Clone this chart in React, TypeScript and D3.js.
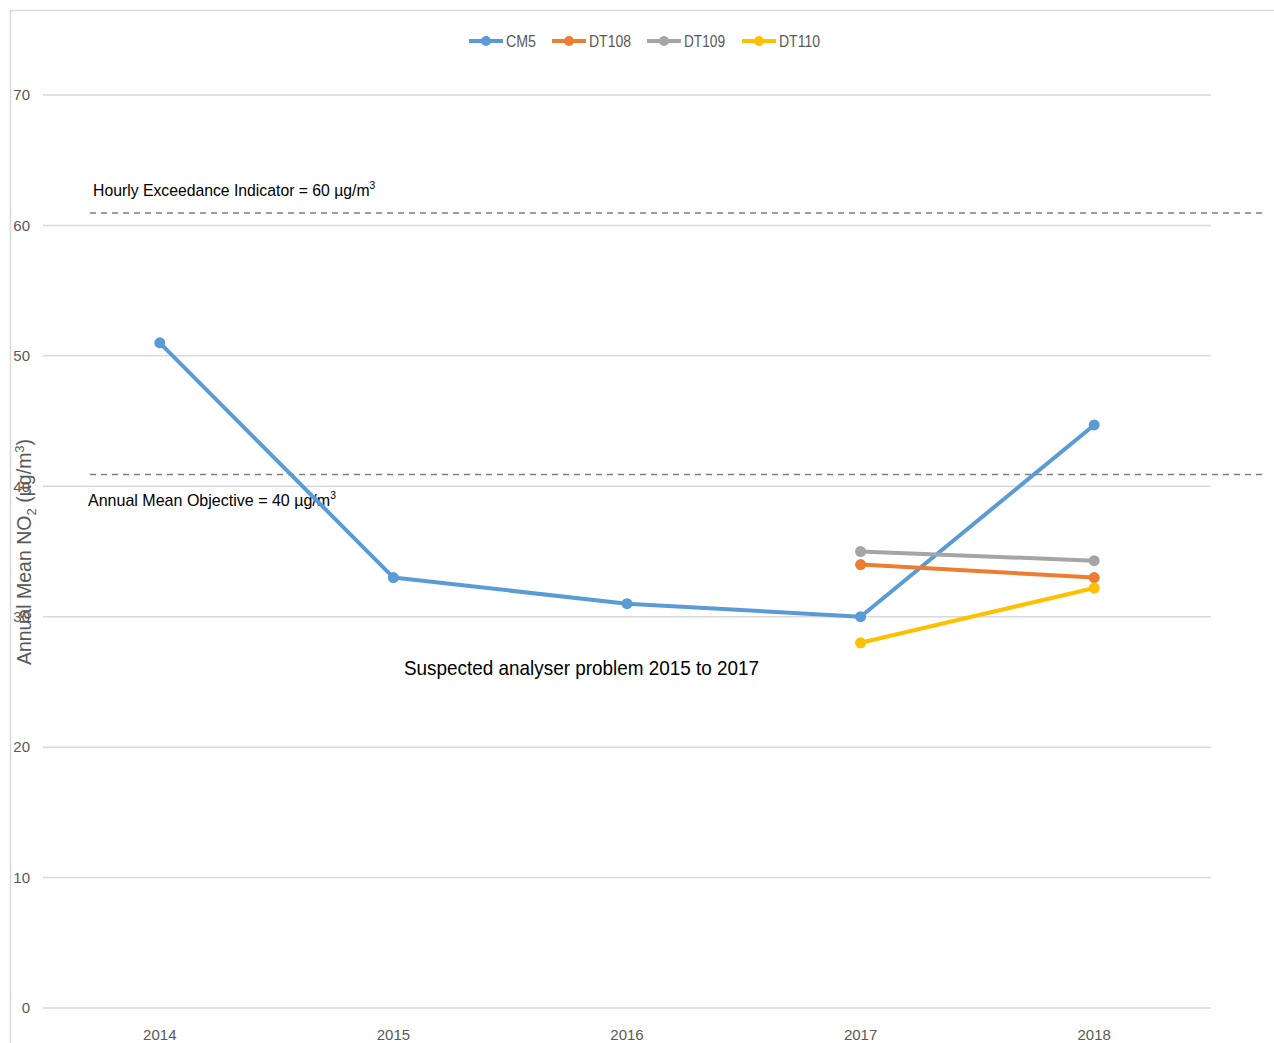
import React from "react";
import * as d3 from "d3";

const years = ["2014", "2015", "2016", "2017", "2018"];
const cm5 = [51, 33, 31, 30, 44.7];
const dt108 = [null, null, null, 34, 33];
const dt109 = [null, null, null, 35, 34.3];
const dt110 = [null, null, null, 28, 32.2];
const seriesNames = ["CM5", "DT108", "DT109", "DT110"];
const seriesColors = ["#5B9BD5", "#ED7D31", "#A5A5A5", "#FFC000"];
const yTicks = [0, 10, 20, 30, 40, 50, 60, 70];
const hourlyLineValue = 60.95;
const annualLineValue = 40.9;
const hourlyText = "Hourly Exceedance Indicator = 60 µg/m";
const annualText = "Annual Mean Objective = 40 µg/m";
const noteText = "Suspected analyser problem 2015 to 2017";

const W = 1274;
const H = 1043;
const font = "'Liberation Sans', Arial, sans-serif";

export default function App() {
  const x = d3.scaleBand<string>().domain(years).range([43, 1211]);
  const y = d3.scaleLinear().domain([0, 70]).range([1008, 95]);
  const cx = (yr: string) => (x(yr) as number) + x.bandwidth() / 2;
  const all = [cm5, dt108, dt109, dt110];
  const line = d3
    .line<number | null>()
    .defined((d) => d != null)
    .x((_, i) => cx(years[i]))
    .y((d) => y(d as number));

  const legendX = [469, 552, 647, 742];
  const legendTextW = [30, 42, 41, 41];

  return (
    <svg
      width={W}
      height={H}
      style={{ position: "absolute", left: 0, top: 0, background: "#fff" }}
    >
      <rect x={0} y={0} width={W} height={H} fill="#fff" />
      <line x1={10} y1={10.5} x2={W} y2={10.5} stroke="#D9D9D9" strokeWidth={1.5} />
      <line x1={10.5} y1={10} x2={10.5} y2={H} stroke="#D9D9D9" strokeWidth={1.5} />

      {yTicks.map((t) => (
        <g key={t}>
          <line x1={43} x2={1211} y1={y(t)} y2={y(t)} stroke="#D9D9D9" strokeWidth={1.5} />
          <text x={30} y={y(t)} dy="0.35em" textAnchor="end" fontFamily={font} fontSize={15} fill="#595959">
            {t}
          </text>
        </g>
      ))}

      {years.map((yr) => (
        <text key={yr} x={cx(yr)} y={1040} textAnchor="middle" fontFamily={font} fontSize={15} fill="#595959">
          {yr}
        </text>
      ))}

      <line x1={90} x2={1262} y1={y(hourlyLineValue)} y2={y(hourlyLineValue)} stroke="#7F7F7F" strokeWidth={1.5} strokeDasharray="6,5" />
      <line x1={90} x2={1262} y1={y(annualLineValue)} y2={y(annualLineValue)} stroke="#7F7F7F" strokeWidth={1.5} strokeDasharray="6,5" />

      <g transform="translate(93,196) scale(0.928,1)">
        <text x={0} y={0} fontFamily={font} fontSize={17} fill="#000">
          {hourlyText}
          <tspan dy={-7} fontSize={11}>3</tspan>
        </text>
      </g>

      <g transform="translate(88,506) scale(0.943,1)">
        <text x={0} y={0} fontFamily={font} fontSize={17} fill="#000">
          {annualText}
          <tspan dy={-7} fontSize={11}>3</tspan>
        </text>
      </g>

      <text
        transform={`translate(31, 552) rotate(-90)`}
        textAnchor="middle"
        fontFamily={font}
        fontSize={19.5}
        fill="#595959"
      >
        Annual Mean NO
        <tspan dy={5} fontSize={13}>2</tspan>
        <tspan dy={-5}> (µg/m</tspan>
        <tspan dy={-7} fontSize={13}>3</tspan>
        <tspan dy={7}>)</tspan>
      </text>

      {all.map((s, i) => (
        <g key={seriesNames[i]}>
          <path d={line(s) || ""} fill="none" stroke={seriesColors[i]} strokeWidth={4} strokeLinejoin="round" strokeLinecap="round" />
          {s.map((v, j) =>
            v == null ? null : <circle key={j} cx={cx(years[j])} cy={y(v)} r={5.5} fill={seriesColors[i]} />
          )}
        </g>
      ))}

      <text x={404} y={675} fontFamily={font} fontSize={21} fill="#000" textLength={355} lengthAdjust="spacingAndGlyphs">
        {noteText}
      </text>

      {seriesNames.map((n, i) => (
        <g key={n} transform={`translate(${legendX[i]}, 41)`}>
          <line x1={0} x2={34} y1={0} y2={0} stroke={seriesColors[i]} strokeWidth={4} />
          <circle cx={17} cy={0} r={5} fill={seriesColors[i]} />
          <text x={37} y={0} dy="0.35em" fontFamily={font} fontSize={16} fill="#595959" textLength={legendTextW[i]} lengthAdjust="spacingAndGlyphs">
            {n}
          </text>
        </g>
      ))}
    </svg>
  );
}
